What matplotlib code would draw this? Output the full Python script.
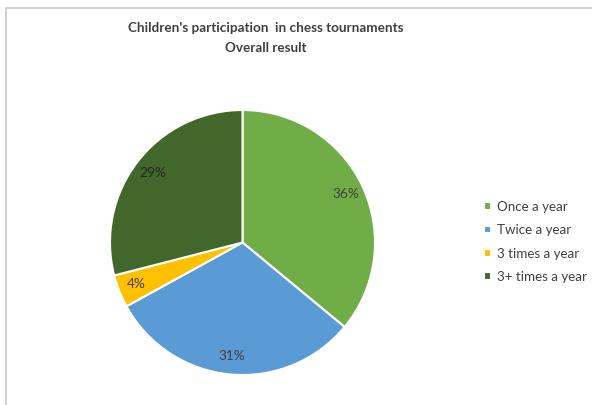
import matplotlib
import matplotlib.pyplot as plt
from matplotlib.patches import Rectangle

matplotlib.use("Agg")
plt.rcParams["font.family"] = ["Lato", "DejaVu Sans"]

labels = ["Once a year", "Twice a year", "3 times a year", "3+ times a year"]
shares = [36, 31, 4, 29]
colors = ["#70AD47", "#5B9BD5", "#FFC000", "#41682A"]
TEXT = "#404040"

W, H = 592, 405
fig = plt.figure(figsize=(W / 100, H / 100), dpi=100)
fig.patch.set_facecolor("white")

# light frame around the chart area (runs off the right and bottom edges)
fig.add_artist(Rectangle((6 / W, -0.05), 1.1, (H - 8) / H + 0.05,
                         transform=fig.transFigure, fill=False,
                         edgecolor="#C8C8C8", lw=1.2))

fig.text(266 / W, 1 - 28 / H, "Children's participation  in chess tournaments",
         ha="center", va="center", fontsize=9.7, fontweight="bold", color=TEXT)
fig.text(266 / W, 1 - 48 / H, "Overall result",
         ha="center", va="center", fontsize=9.7, fontweight="bold", color=TEXT)

cx, cy, r = 242.5, 242.5, 132.5
ax = fig.add_axes([(cx - r) / W, (H - cy - r) / H, 2 * r / W, 2 * r / H])
wedges, _, autotexts = ax.pie(
    shares, colors=colors, startangle=90, counterclock=False,
    autopct="%d%%", pctdistance=0.86,
    wedgeprops=dict(edgecolor="white", linewidth=1.5),
    textprops=dict(color=TEXT, fontsize=9.8),
)
autotexts[3].set_color("#262626")
ax.set_xlim(-1, 1)
ax.set_ylim(-1, 1)
ax.set_aspect("equal")

fig.legend(wedges, labels, loc="center left", bbox_to_anchor=(472 / W, 1 - 242 / H),
           frameon=False, fontsize=9.6, handlelength=0.5, handleheight=0.5,
           handletextpad=0.45, labelspacing=0.85, labelcolor=TEXT)

fig.savefig("out.png", dpi=100, facecolor="white")
